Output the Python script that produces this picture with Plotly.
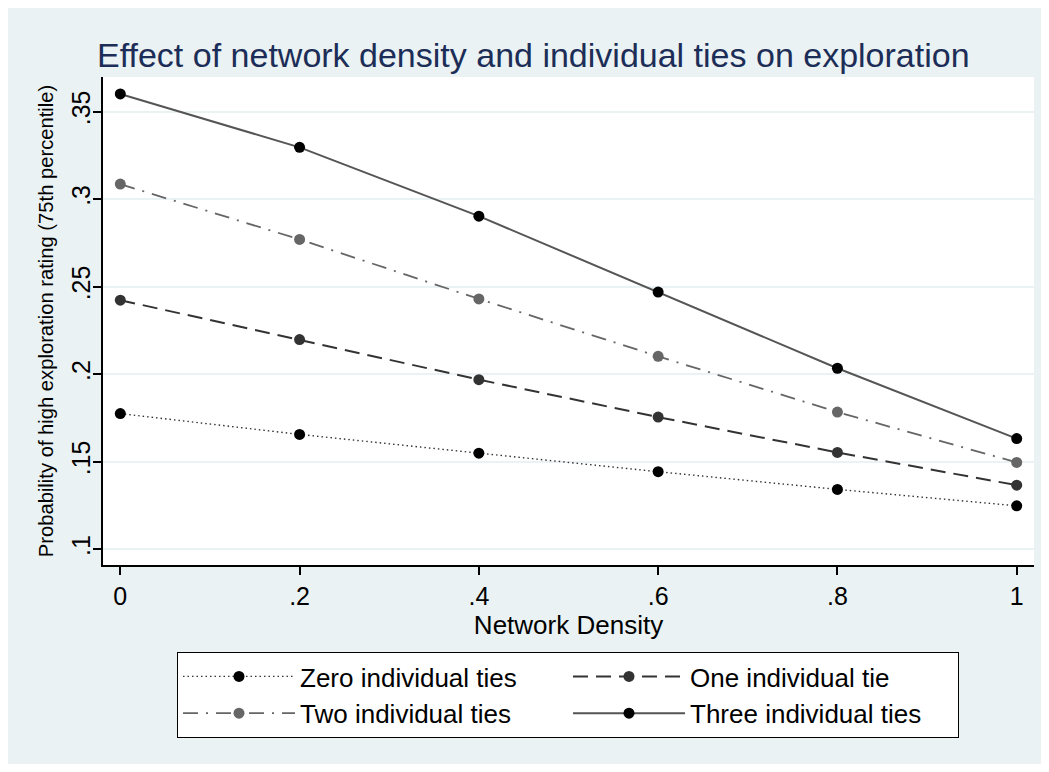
import plotly.graph_objects as go

density = [0, 0.2, 0.4, 0.6, 0.8, 1.0]
zero_ties = [0.1775, 0.1656, 0.1549, 0.1443, 0.1342, 0.1248]
one_tie = [0.2423, 0.2198, 0.1969, 0.1755, 0.1553, 0.1366]
two_ties = [0.3086, 0.2770, 0.2430, 0.2102, 0.1784, 0.1496]
three_ties = [0.3601, 0.3296, 0.2903, 0.2469, 0.2034, 0.1632]

series_names = ["Zero individual ties", "One individual tie",
                "Two individual ties", "Three individual ties"]

x_tickvals = [0, 0.2, 0.4, 0.6, 0.8, 1.0]
x_ticktext = ["0", ".2", ".4", ".6", ".8", "1"]
y_tickvals = [0.10, 0.15, 0.20, 0.25, 0.30, 0.35]
y_ticktext = [".1", ".15", ".2", ".25", ".3", ".35"]

FONT = "Liberation Sans, Arial, Helvetica, sans-serif"
BG = "#EAF2F3"

# page body has an 8px margin; figure coordinates are the reference minus 8px
W, H = 1033, 756
PL, PR, PT, PB = 95, 1026, 69, 557

styles = [
    dict(line=dict(color="#333333", width=1.4, dash="1.5px,3px"), marker=dict(color="#000000", size=11)),
    dict(line=dict(color="#333333", width=2, dash="15px,8px"), marker=dict(color="#333333", size=11)),
    dict(line=dict(color="#666666", width=1.8, dash="15px,8px,2px,8px"), marker=dict(color="#666666", size=11)),
    dict(line=dict(color="#555555", width=2, dash="solid"), marker=dict(color="#000000", size=11)),
]

fig = go.Figure()
for name, ys, st in zip(series_names, [zero_ties, one_tie, two_ties, three_ties], styles):
    fig.add_trace(go.Scatter(x=density, y=ys, name=name, mode="lines+markers",
                             line=st["line"], marker=st["marker"]))

fig.update_layout(
    width=W, height=H,
    margin=dict(l=PL, r=W - PR, t=PT, b=H - PB, autoexpand=False),
    paper_bgcolor=BG,
    plot_bgcolor="white",
    font=dict(family=FONT, color="black"),
    title=dict(text="Effect of network density and individual ties on exploration",
               font=dict(family=FONT, size=34, color="#1C2D57"),
               x=89 / W, xanchor="left", xref="container",
               y=1 - 47 / H, yanchor="middle", yref="container"),
    showlegend=True,
    legend=dict(orientation="h", x=(560 - PL) / (PR - PL), xanchor="center",
                y=(PB - 644) / (PB - PT), yanchor="top",
                bgcolor="white", bordercolor="black", borderwidth=1,
                font=dict(family=FONT, size=26, color="black"),
                itemwidth=112, entrywidth=263, entrywidthmode="pixels",
                traceorder="normal", tracegroupgap=0),
)

fig.update_xaxes(range=[-0.0193, 1.0193], tickvals=x_tickvals, ticktext=x_ticktext,
                 showgrid=False, zeroline=False, showline=True, linecolor="black", linewidth=1.5,
                 ticks="outside", ticklen=8, tickcolor="black", tickwidth=1.5,
                 tickfont=dict(size=25, family=FONT, color="black"),
                 title=dict(text="Network Density", font=dict(size=26, family=FONT, color="black"),
                            standoff=2))
fig.update_yaxes(range=[0.0910, 0.3698], tickvals=y_tickvals, ticktext=y_ticktext,
                 showgrid=True, gridcolor=BG, gridwidth=1.5, zeroline=False,
                 showline=True, linecolor="black", linewidth=1.5,
                 ticks="outside", ticklen=8, tickcolor="black", tickwidth=1.5, tickangle=-90,
                 ticklabelstandoff=-7,
                 tickfont=dict(size=25, family=FONT, color="black"),
                 title=dict(text="Probability of high exploration rating (75th percentile)",
                            font=dict(size=20.2, family=FONT, color="black"), standoff=8))

fig.write_html("out.html")
